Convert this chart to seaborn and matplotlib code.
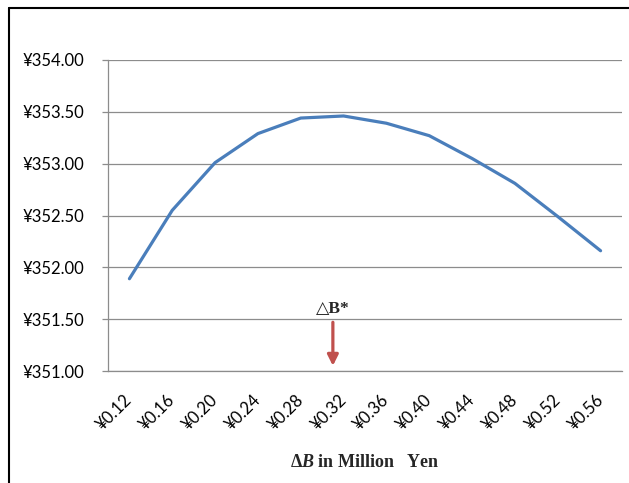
import matplotlib
matplotlib.use("Agg")
import matplotlib.pyplot as plt
import seaborn as sns
import pandas as pd
import numpy as np
from matplotlib.lines import Line2D

categories = ["¥0.12", "¥0.16", "¥0.20", "¥0.24", "¥0.28", "¥0.32",
              "¥0.36", "¥0.40", "¥0.44", "¥0.48", "¥0.52", "¥0.56"]
values = [351.89, 352.55, 353.01, 353.29, 353.44, 353.46,
          353.39, 353.27, 353.05, 352.81, 352.49, 352.16]
y_ticks = [351.0, 351.5, 352.0, 352.5, 353.0, 353.5, 354.0]
y_tick_labels = ["¥351.00", "¥351.50", "¥352.00", "¥352.50", "¥353.00", "¥353.50", "¥354.00"]

sns.set_theme(style="white")
plt.rcParams["font.family"] = ["Lato", "DejaVu Sans"]
plt.rcParams["mathtext.fontset"] = "custom"
plt.rcParams["mathtext.rm"] = "Liberation Serif:bold"
plt.rcParams["mathtext.bf"] = "Liberation Serif:bold"
plt.rcParams["mathtext.it"] = "Liberation Serif:bold:italic"

W, H = 629, 483
fig = plt.figure(figsize=(W / 100, H / 100), dpi=100)
ax = fig.add_axes([108 / W, 1 - 371 / H, (622 - 108) / W, (371 - 60) / H])

df = pd.DataFrame({"pos": np.arange(len(categories)), "value": values})
sns.lineplot(data=df, x="pos", y="value", ax=ax, color="#4A7EBB", linewidth=2.3)

grid_c = "#8C8C8C"
ax.set_xlim(-0.5, len(categories) - 0.5)
ax.set_ylim(351.0, 354.0)
ax.set_yticks(y_ticks)
ax.set_yticklabels(y_tick_labels)
ax.set_xticks(np.arange(len(categories)))
ax.set_xticklabels(categories, rotation=45, ha="right", va="center",
                   rotation_mode="anchor")
ax.grid(axis="y", color=grid_c, linewidth=0.9)
ax.grid(axis="x", visible=False)
for s in ["top", "right"]:
    ax.spines[s].set_visible(False)
for s in ["left", "bottom"]:
    ax.spines[s].set_color(grid_c)
    ax.spines[s].set_linewidth(0.9)
ax.tick_params(axis="y", which="major", left=True, length=4, width=0.9,
               color=grid_c, pad=13, labelsize=12, labelcolor="black")
ax.tick_params(axis="x", which="major", bottom=False, pad=13, labelsize=12,
               labelcolor="black")
ax.set_xlabel(r"$\mathbf{\Delta}\mathit{B}$ in Million   Yen", fontsize=13,
              fontweight="bold", family="Liberation Serif", labelpad=15)
ax.set_ylabel("")

# Optimal point annotation
ax.annotate("", xy=(4.75, 351.05), xytext=(4.75, 351.47),
            arrowprops=dict(arrowstyle="-|>", color="#C0504D", lw=2.3,
                            mutation_scale=16, shrinkA=0, shrinkB=0))
ax.text(4.75, 351.6, "△B*", ha="center", va="center", fontsize=12.5,
        fontweight="bold", family=["Liberation Serif", "DejaVu Serif"])

# outer frame lines
fig.add_artist(Line2D([9 / W, 9 / W], [0, 1 - 8 / H], color="black", lw=1.5,
                      transform=fig.transFigure))
fig.add_artist(Line2D([9 / W, 1], [1 - 8 / H, 1 - 8 / H], color="black", lw=1.5,
                      transform=fig.transFigure))

fig.savefig("out.png", dpi=100)
